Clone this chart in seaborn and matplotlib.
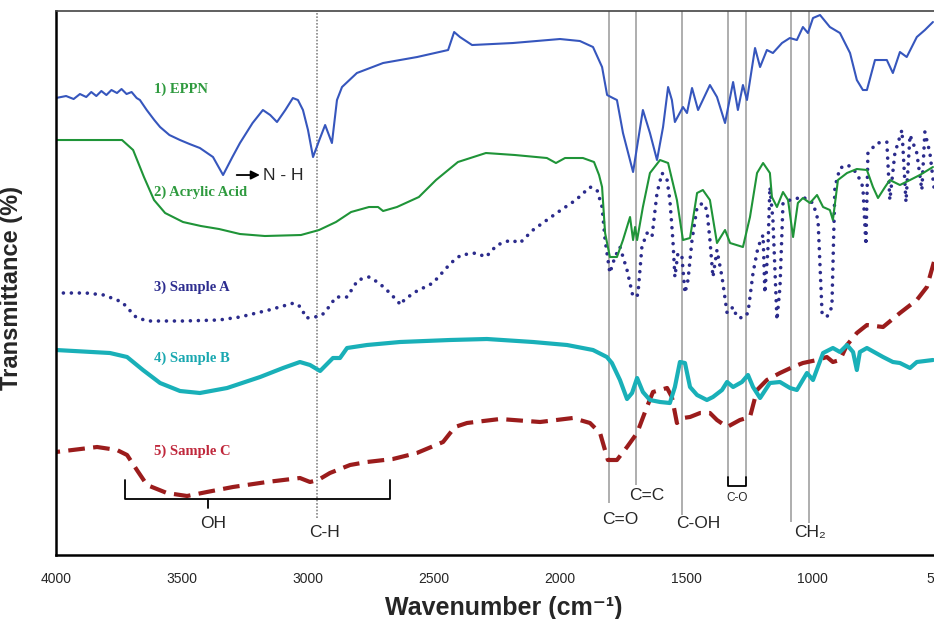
import matplotlib
matplotlib.use("Agg")
import matplotlib.pyplot as plt
import seaborn as sns

sns.set_style("white")
plt.rcParams['font.family'] = ['Liberation Sans', 'DejaVu Sans']

# FTIR spectra, wavenumber (cm-1) vs transmittance (offset, arbitrary units)
eppn_wn = [4000, 3960, 3930, 3905, 3880, 3860, 3840, 3820, 3800, 3780, 3758, 3740, 3720, 3700,
           3680, 3667, 3640, 3610, 3587, 3550, 3508, 3470, 3429, 3377, 3337, 3300, 3270, 3220,
           3179, 3150, 3123, 3090, 3060, 3040, 3020, 3000, 2980, 2955, 2932, 2905, 2885, 2865,
           2806, 2702, 2567, 2444, 2420, 2397, 2349, 2187, 2000, 1921, 1869, 1833, 1813, 1790,
           1774, 1750, 1710, 1671, 1643, 1615, 1591, 1571, 1556, 1544, 1512, 1496, 1476, 1452,
           1405, 1377, 1345, 1313, 1294, 1274, 1258, 1226, 1206, 1179, 1155, 1119, 1088, 1060,
           1036, 1016, 996, 968, 929, 889, 849, 822, 798, 782, 750, 703, 679, 651, 624, 584,
           552, 520]
eppn_t = [457, 459, 456, 461, 458, 463, 459, 464, 460, 465, 462, 466, 461, 463,
          457, 455, 445, 435, 428, 420, 415, 411, 407, 398, 380, 398, 412, 432,
          445, 440, 433, 445, 457, 455, 445, 425, 398, 415, 430, 412, 455, 468,
          482, 492, 498, 505, 523, 518, 510, 512, 516, 514, 508, 488, 460, 457,
          455, 422, 383, 445, 422, 395, 428, 468, 455, 433, 448, 442, 467, 445,
          470, 458, 432, 473, 445, 470, 455, 507, 488, 505, 502, 512, 517, 515,
          528, 522, 537, 540, 528, 522, 502, 475, 465, 465, 495, 495, 482, 503, 498, 518,
          525, 533]

acrylic_wn = [4000, 3738, 3694, 3651, 3611, 3567, 3496, 3425, 3353, 3270, 3171, 3028, 2956,
              2889, 2829, 2758, 2722, 2702, 2647, 2560, 2492, 2405, 2294, 2179, 2052, 2016,
              1980, 1909, 1865, 1845, 1833, 1821, 1802, 1774, 1750, 1722, 1710, 1702, 1694,
              1671, 1643, 1603, 1571, 1536, 1512, 1484, 1456, 1433, 1405, 1377, 1345, 1325,
              1274, 1246, 1218, 1194, 1167, 1159, 1139, 1115, 1095, 1075, 1056, 1036, 1008,
              980, 956, 929, 917, 897, 861, 822, 782, 758, 738, 710, 691, 651, 611, 572, 520]
acrylic_t = [415, 415, 405, 378, 355, 342, 333, 329, 326, 321, 319, 320, 325,
             333, 343, 348, 348, 344, 348, 358, 375, 393, 402, 400, 397, 392,
             397, 397, 393, 380, 368, 322, 298, 298, 315, 338, 315, 328, 315,
             348, 382, 395, 392, 355, 315, 317, 362, 365, 355, 312, 325, 312,
             308, 338, 382, 392, 382, 358, 348, 363, 355, 318, 352, 357, 352,
             360, 348, 345, 335, 375, 382, 386, 385, 368, 357, 368, 375, 370, 375, 380, 388]

sample_a_wn = [4000, 3881, 3810, 3738, 3683, 3639, 3496, 3353, 3270, 3155, 3056, 3028, 3008,
               2972, 2944, 2917, 2889, 2845, 2802, 2758, 2718, 2675, 2631, 2619, 2575, 2504,
               2433, 2393, 2333, 2294, 2250, 2195, 2159, 2107, 2052, 1996, 1937, 1881, 1853,
               1833, 1821, 1802, 1782, 1762, 1734, 1710, 1691, 1675, 1655, 1635, 1615, 1595,
               1575, 1564, 1552, 1544, 1532, 1516, 1504, 1492, 1476, 1456, 1433, 1417, 1405,
               1393, 1377, 1357, 1337, 1313, 1298, 1274, 1254, 1234, 1214, 1194, 1187, 1175,
               1167, 1155, 1139, 1127, 1115, 1087, 1036, 996, 976, 960, 941, 921, 909, 889,
               857, 822, 798, 786, 778, 742, 703, 691, 671, 643, 627, 611, 584, 564, 552, 532, 516]
sample_a_t = [262, 262, 260, 253, 238, 234, 234, 235, 238, 245, 252, 248, 237,
              238, 240, 248, 258, 258, 275, 278, 272, 262, 250, 255, 263, 272,
              292, 300, 302, 298, 310, 315, 312, 325, 335, 345, 355, 368, 365,
              348, 315, 282, 298, 308, 285, 258, 260, 308, 322, 318, 362, 382,
              375, 355, 315, 278, 302, 298, 262, 275, 315, 348, 352, 345, 315,
              278, 305, 278, 242, 248, 238, 237, 242, 282, 308, 320, 262, 305,
              368, 335, 235, 268, 352, 355, 358, 352, 335, 242, 238, 248, 368, 387,
              390, 382, 368, 310, 402, 412, 413, 355, 402, 425, 353, 420, 402, 365, 423, 402, 368]

sample_b_wn = [4000, 3786, 3718, 3655, 3587, 3508, 3429, 3321, 3190, 3099, 3032, 2992, 2952,
               2901, 2873, 2845, 2766, 2635, 2437, 2290, 2107, 1972, 1869, 1814, 1794, 1762,
               1734, 1714, 1694, 1671, 1643, 1603, 1564, 1544, 1524, 1504, 1484, 1456, 1417,
               1393, 1357, 1337, 1313, 1278, 1254, 1234, 1206, 1167, 1127, 1087, 1060, 1020,
               996, 956, 917, 889, 861, 837, 822, 810, 782, 718, 679, 651, 611, 584, 520]
sample_b_t = [205, 202, 198, 185, 172, 164, 162, 167, 178, 187, 193, 190, 184,
              197, 197, 207, 210, 213, 215, 216, 213, 210, 205, 198, 192, 175,
              156, 162, 177, 163, 155, 153, 152, 168, 193, 192, 168, 160, 155,
              158, 165, 173, 168, 173, 180, 168, 157, 172, 173, 167, 165, 182,
              175, 202, 207, 203, 210, 203, 185, 203, 207, 198, 193, 192, 187, 193, 195]

sample_c_wn = [4000, 3837, 3758, 3718, 3679, 3639, 3560, 3480, 3401, 3298, 3163, 3032, 2992,
               2960, 2913, 2833, 2766, 2663, 2568, 2464, 2417, 2369, 2238, 2079, 1949, 1881,
               1841, 1810, 1774, 1734, 1694, 1655, 1631, 1575, 1556, 1536, 1512, 1484, 1444,
               1405, 1377, 1337, 1286, 1246, 1218, 1179, 1127, 1076, 1036, 980, 941, 917, 889,
               861, 822, 782, 718, 651, 584, 544, 516]
sample_c_t = [103, 108, 105, 100, 85, 70, 62, 59, 63, 68, 73, 77, 73,
              75, 82, 90, 93, 96, 102, 113, 128, 132, 136, 133, 137, 132,
              122, 95, 95, 108, 122, 148, 163, 167, 158, 132, 137, 138, 142,
              142, 135, 128, 135, 138, 165, 175, 182, 188, 192, 195, 198, 193, 195,
              210, 222, 230, 228, 242, 255, 268, 293]

# curve labels: text, left wavenumber, height
curve_labels = ["1) EPPN", "2) Acrylic Acid", "3) Sample A", "4) Sample B", "5) Sample C"]
label_wn = [3611, 3611, 3611, 3611, 3611]
label_t = [466, 363, 268, 197, 104]

# band marker lines (wavenumber, lower end) and their labels
band_wn = [1805, 1697, 1515, 1333, 1262, 1083, 1012]
band_end = [52, 70, 40, 77, 77, 33, 32]
ch_wn, ch_end = 2964, 37
band_names = ["C=O", "C=C", "C-OH", "CH\u2082", "OH", "C-H"]
band_name_wn = [1762, 1655, 1453, 1008, 3377, 2933]
band_name_t = [35, 59, 31, 22, 31, 22]

fig = plt.figure(figsize=(9.34, 6.19), dpi=100)
ax = fig.add_axes([0.05996, 0.1034, 0.9443, 0.8788])

spectra = [
    (sample_c_wn, sample_c_t, dict(color='#9b1c1c', lw=3.0, linestyle=(0, (4, 2)))),
    (sample_b_wn, sample_b_t, dict(color='#19b0b8', lw=3.0, linestyle='-')),
    (sample_a_wn, sample_a_t, dict(color='#2b2b8c', lw=2.6, linestyle=(0, (0.01, 2.2)),
                                   dash_capstyle='round')),
    (acrylic_wn, acrylic_t, dict(color='#1f9438', lw=1.5, linestyle='-')),
    (eppn_wn, eppn_t, dict(color='#3656bd', lw=1.5, linestyle='-')),
]
for wn, t, style in spectra:
    sns.lineplot(x=wn, y=t, ax=ax, estimator=None, **style)

# band guide lines
for wn, end in zip(band_wn, band_end):
    ax.vlines(wn, end, 544, color='#a8a8a8', lw=1.3, zorder=0)
ax.vlines(ch_wn, ch_end, 544, color='#888888', lw=1.2, linestyle=(0, (1, 1)), zorder=0)

# C-O bracket
ax.plot([1333, 1333, 1262, 1262], [78, 69, 69, 78], color='black', lw=1.3)
ax.text(1297, 57, "C-O", ha='center', va='center', fontsize=8.5)

# OH bracket
ax.plot([3726, 3726, 2675, 2675], [75, 56, 56, 75], color='black', lw=1.3)
ax.plot([3397, 3397], [56, 47], color='black', lw=1.3)

for name, wn, t in zip(band_names, band_name_wn, band_name_t):
    ax.text(wn, t, name, ha='center', va='center', fontsize=12.5)

# N-H arrow
ax.annotate('', xy=(3180, 380), xytext=(3294, 380),
            arrowprops=dict(arrowstyle='-|>', color='black', lw=1.3, mutation_scale=13))
ax.text(3178, 380, "N - H", ha='left', va='center', fontsize=12.5)

label_colors = ['#2e9a3e', '#2e9a3e', '#2d2d8f', '#1aa8b0', '#c0283c']
for text, wn, t, c in zip(curve_labels, label_wn, label_t, label_colors):
    ax.text(wn, t, text, ha='left', va='center', color=c, fontsize=10.5,
            fontweight='bold', family=['Liberation Serif', 'DejaVu Serif'])

ax.set_xlim(4000, 500)
ax.set_ylim(0, 544)
ax.set_xticks([4000, 3500, 3000, 2500, 2000, 1500, 1000, 500])
ax.set_xticks([3750, 3250, 2750, 2250, 1750, 1250, 750], minor=True)
ax.set_yticks([])
ax.tick_params(axis='x', which='major', direction='out', length=7, width=1.3,
               labelsize=10, pad=5, color='black')
ax.tick_params(axis='x', which='minor', direction='out', length=4, width=1.2, color='black')

for side in ['left', 'bottom']:
    ax.spines[side].set_color('black')
    ax.spines[side].set_linewidth(1.8)
ax.spines['top'].set_color('#444444')
ax.spines['top'].set_linewidth(1.2)
ax.spines['right'].set_visible(False)

ax.set_xlabel("Wavenumber (cm\u207b\u00b9)", fontsize=18, fontweight='bold')
ax.set_ylabel("Transmittance (%)", fontsize=17, fontweight='bold')
ax.xaxis.set_label_coords(0.508, -0.075)
ax.yaxis.set_label_coords(-0.037, 0.49)

fig.savefig("out.png", dpi=100)
